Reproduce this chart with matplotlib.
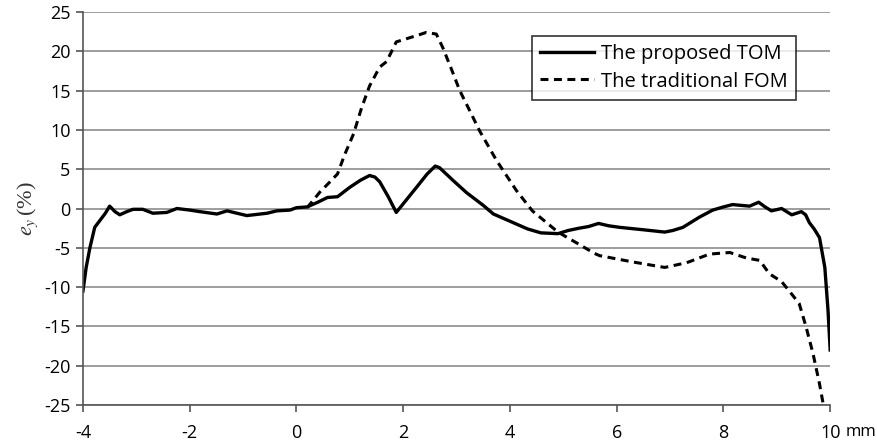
import numpy as np
import matplotlib
matplotlib.use('Agg')
import matplotlib.pyplot as plt

# Werte (x in mm, e_y in %)
tom_x = [-4.0, -3.94, -3.87, -3.78, -3.68, -3.58, -3.5, -3.4, -3.31, -3.18, -3.06, -2.88, -2.69,
         -2.43, -2.24, -2.0, -1.81, -1.49, -1.3, -0.93, -0.55, -0.37, -0.12, 0.0, 0.2, 0.4,
         0.58, 0.77, 1.0, 1.2, 1.37, 1.47, 1.56, 1.72, 1.87, 2.0, 2.25, 2.45, 2.6, 2.68, 2.93,
         3.19, 3.5, 3.69, 3.96, 4.33, 4.58, 4.9, 5.09, 5.3, 5.47, 5.66, 5.85, 6.06, 6.49, 6.9,
         7.05, 7.24, 7.55, 7.8, 8.0, 8.17, 8.49, 8.66, 8.78, 8.9, 9.09, 9.28, 9.46, 9.54, 9.61,
         9.7, 9.8, 9.9, 9.96, 10.0]
tom_y = [-10.5, -7.5, -5.0, -2.4, -1.5, -0.6, 0.3, -0.4, -0.8, -0.4, -0.1, -0.1, -0.6,
         -0.5, 0.0, -0.2, -0.4, -0.7, -0.3, -0.9, -0.6, -0.3, -0.2, 0.1, 0.2, 0.8,
         1.4, 1.5, 2.7, 3.6, 4.2, 4.0, 3.4, 1.5, -0.5, 0.6, 2.7, 4.4, 5.4, 5.2, 3.6,
         2.0, 0.4, -0.7, -1.5, -2.6, -3.1, -3.2, -2.8, -2.5, -2.3, -1.9, -2.2, -2.4, -2.7, -3.0,
         -2.8, -2.4, -1.1, -0.2, 0.2, 0.5, 0.3, 0.8, 0.2, -0.3, 0.0, -0.8, -0.4, -0.8, -1.8,
         -2.6, -3.7, -7.5, -13.0, -18.0]

fom_x = [0.2, 0.44, 0.6, 0.77, 0.9, 1.07, 1.22, 1.37, 1.56, 1.69, 1.87, 2.06, 2.25, 2.43, 2.62,
         2.74, 2.9, 3.06, 3.25, 3.43, 3.75, 4.12, 4.42, 4.9, 5.28, 5.58, 5.68, 6.3, 6.9, 7.31,
         7.74, 8.12, 8.43, 8.68, 8.86, 9.09, 9.28, 9.42, 9.55, 9.68, 9.8, 9.87]
fom_y = [0.1, 2.1, 3.2, 4.4, 6.8, 9.5, 12.8, 15.6, 18.0, 18.7, 21.2, 21.6, 22.0, 22.4, 22.2,
         20.5, 17.8, 15.0, 12.4, 9.9, 6.1, 2.3, -0.3, -3.0, -4.5, -5.7, -6.0, -6.8, -7.5, -6.9,
         -5.8, -5.6, -6.3, -6.6, -8.3, -9.3, -10.9, -12.1, -15.1, -18.5, -22.3, -24.9]

x_ticks = [-4, -2, 0, 2, 4, 6, 8, 10]
y_ticks = [-25, -20, -15, -10, -5, 0, 5, 10, 15, 20, 25]

plt.rcParams['font.family'] = ['Open Sans', 'DejaVu Sans']
plt.rcParams['mathtext.fontset'] = 'stix'

fig = plt.figure(figsize=(8.77, 4.46), dpi=100)
ax = fig.add_axes([0.0946, 0.092, 0.852, 0.881])

ax.plot(tom_x, tom_y, color='black', lw=2.4, label='The proposed TOM',
        solid_joinstyle='round')
ax.plot(fom_x, fom_y, color='black', lw=2.2, linestyle=(0, (2.6, 1.8)),
        label='The traditional FOM')

ax.set_xlim(-4, 10)
ax.set_ylim(-25, 25)
ax.set_xticks(x_ticks)
ax.set_xticklabels([str(t) for t in x_ticks])
ax.set_yticks(y_ticks)
ax.set_yticklabels([str(t) for t in y_ticks])

ax.grid(axis='y', color='#8c8c8c', lw=1.2)
ax.set_axisbelow(True)
for s in ['top', 'right']:
    ax.spines[s].set_visible(False)
for s in ['left', 'bottom']:
    ax.spines[s].set_color('#555555')
    ax.spines[s].set_linewidth(1.2)
ax.tick_params(axis='both', colors='#555555', labelcolor='black', labelsize=13,
               length=5, width=1.2, direction='out')
ax.tick_params(axis='x', pad=9)
ax.tick_params(axis='y', pad=4)

# Einheit rechts neben "10"
ax.annotate('mm', xy=(10, -25), xycoords='data', xytext=(11, -14),
            textcoords='offset points', ha='left', va='top', fontsize=12)
ax.set_ylabel(r'$e_y\,$(%)', fontsize=16, family='Liberation Serif', color='#333333',
              labelpad=3)

leg = ax.legend(loc='upper right', bbox_to_anchor=(0.954, 0.938), fontsize=14.5,
                frameon=True, fancybox=False, edgecolor='black', handlelength=2.7,
                borderpad=0.4, labelspacing=0.35, handletextpad=0.35, borderaxespad=0)
leg.get_frame().set_linewidth(1.2)

fig.savefig('out.png', dpi=100)
